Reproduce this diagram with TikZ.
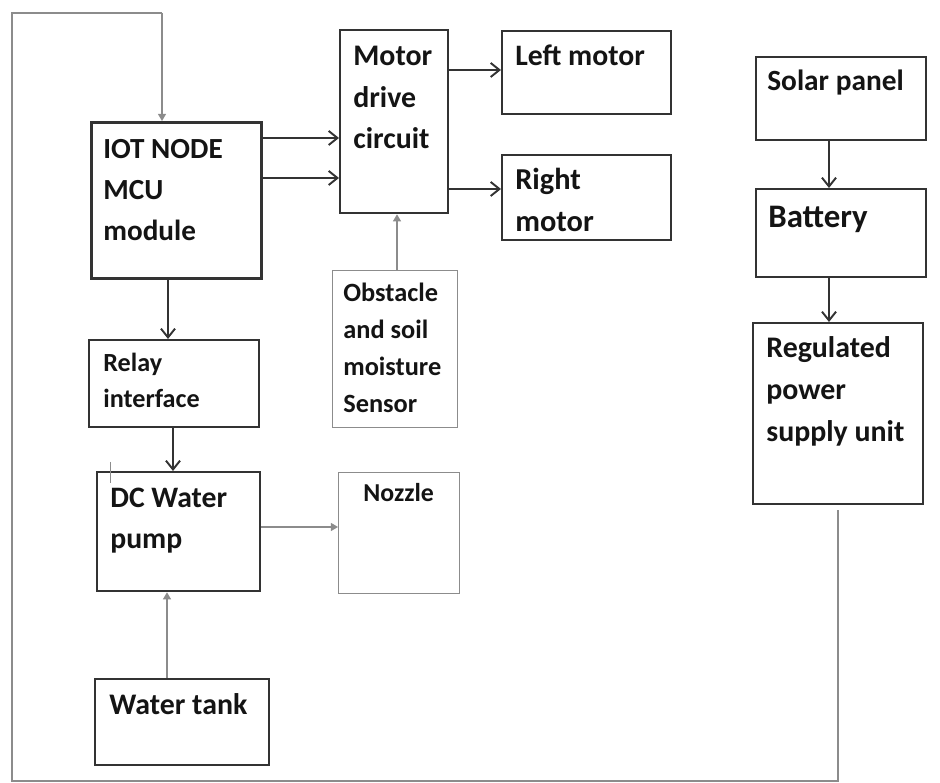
\documentclass[tikz,border=0pt]{standalone}
\usepackage{fontspec}
\setmainfont{Carlito}
\usetikzlibrary{arrows.meta}
\newcommand\pxu{0.02cm}
\newcommand\fsz[2]{\fontsize{#1}{#2}\selectfont\bfseries}
\definecolor{edge}{HTML}{333333}
\definecolor{lite}{HTML}{8C8C8C}

\begin{document}
\begin{tikzpicture}[x=0.02cm,y=-0.02cm,
    blk/.style={draw=edge,line width=1.3pt,inner sep=0pt,anchor=north west},
    thinblk/.style={draw=lite,line width=0.8pt,inner sep=0pt,anchor=north west},
    txt/.style={anchor=north west,inner sep=0pt,align=left,text=black!92},
    openarr/.style={draw=edge,line width=1.1pt,-{Straight Barb[length=5pt,width=8pt]}},
    fillarr/.style={draw=lite,line width=0.8pt,-{Triangle[length=4pt,width=4.5pt]}},
    loopline/.style={draw=lite,line width=0.8pt}]
    \useasboundingbox (0,0) rectangle (940,783);
    % boxes
    \node[blk,line width=1.8pt,minimum width=170*\pxu,minimum height=156*\pxu] (iot) at (90,121) {};
    \node[blk,minimum width=108*\pxu,minimum height=183*\pxu] (motor) at (339,29) {};
    \node[blk,minimum width=169*\pxu,minimum height=83*\pxu] (left) at (501,30) {};
    \node[blk,minimum width=169*\pxu,minimum height=85*\pxu] (right) at (501,154) {};
    \node[thinblk,minimum width=125*\pxu,minimum height=157*\pxu] (obst) at (332,270) {};
    \node[blk,minimum width=170*\pxu,minimum height=87*\pxu] (relay) at (88,339) {};
    \node[blk,minimum width=163*\pxu,minimum height=119*\pxu] (pump) at (96,471) {};
    \node[thinblk,minimum width=121*\pxu,minimum height=121*\pxu] (nozzle) at (338,472) {};
    \node[blk,minimum width=174*\pxu,minimum height=86*\pxu] (tank) at (94,678) {};
    \node[blk,minimum width=170*\pxu,minimum height=83*\pxu] (solar) at (755,56) {};
    \node[blk,minimum width=170*\pxu,minimum height=88*\pxu] (battery) at (755,188) {};
    \node[blk,minimum width=170*\pxu,minimum height=181*\pxu] (reg) at (752,322) {};
    % labels
    \node[txt,font=\fsz{16.6}{23.3}] (iot-t) at (103,139) {IOT NODE\\MCU\\module};
    \node[txt,font=\fsz{17}{23.6}] (motor-t) at (353,46) {Motor\\drive\\circuit};
    \node[txt,font=\fsz{16.9}{23.6}] (left-t) at (515,45) {Left motor};
    \node[txt,font=\fsz{17.3}{23.9}] (right-t) at (515,168) {Right\\motor};
    \node[txt,font=\fsz{15}{21}] (obst-t) at (343,283) {Obstacle\\and soil\\moisture\\Sensor};
    \node[txt,font=\fsz{14.9}{20.5}] (relay-t) at (103,353) {Relay\\interface};
    \node[txt,font=\fsz{16.9}{23.3}] (pump-t) at (110,488) {DC Water\\pump};
    \node[txt,font=\fsz{14.7}{20}] (nozzle-t) at (363,483) {Nozzle};
    \node[txt,font=\fsz{17}{23}] (tank-t) at (109,693) {Water tank};
    \node[txt,font=\fsz{16.7}{23.9}] (solar-t) at (767,70) {Solar panel};
    \node[txt,font=\fsz{18.7}{24}] (battery-t) at (768,206) {Battery};
    \node[txt,font=\fsz{17}{23.9}] (reg-t) at (766,336) {Regulated\\power\\supply unit};
    % connectors
    \draw[openarr] (iot.east |- 0,138) -- (motor.west |- 0,138);
    \draw[openarr] (iot.east |- 0,178) -- (motor.west |- 0,178);
    \draw[openarr] (motor.east |- 0,70) -- (left.west |- 0,70);
    \draw[openarr] (motor.east |- 0,189) -- (right.west |- 0,189);
    \draw[fillarr] (obst.north -| 397,0) -- (motor.south -| 397,0);
    \draw[openarr] (iot.south -| 168,0) -- (relay.north -| 168,0);
    \draw[openarr] (relay.south -| 173,0) -- (pump.north -| 173,0);
    \draw[fillarr] (pump.east |- 0,527) -- (nozzle.west |- 0,527);
    \draw[fillarr] (tank.north -| 167,0) -- (pump.south -| 167,0);
    \draw[openarr] (solar.south -| 829,0) -- (battery.north -| 829,0);
    \draw[openarr] (battery.south -| 829,0) -- (reg.north -| 829,0);
    \draw[loopline] (reg.south -| 838,0) ++(0,5) |- (12,781) |- (162,13);
    \draw[fillarr] (162,13) -- (iot.north -| 162,0);
    \draw[lite,line width=0.5pt] (pump.north west) ++(14,-9) -- ++(0,21);
\end{tikzpicture}
\end{document}
